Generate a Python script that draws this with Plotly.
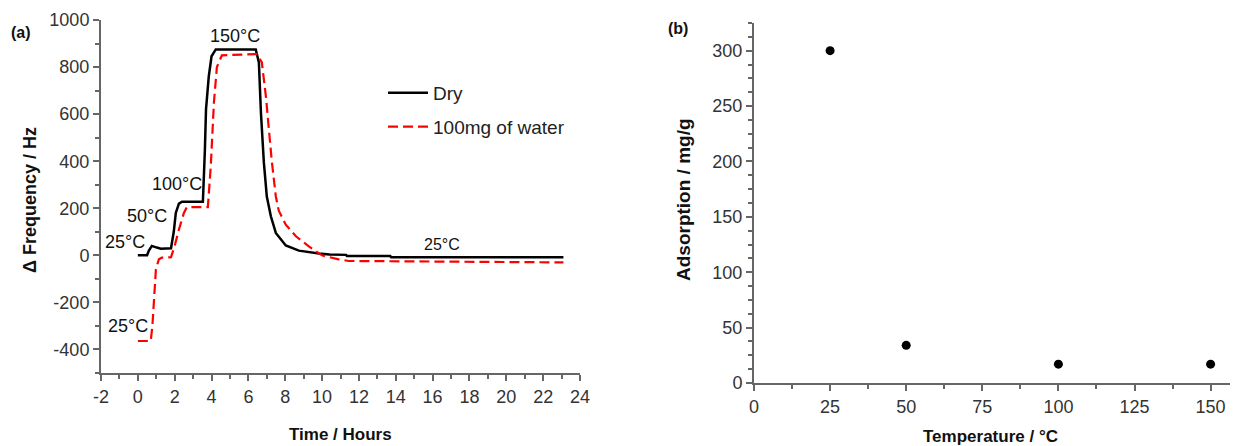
import plotly.graph_objects as go

# Panel (a): frequency shift vs time
dry_t = [0, 0.5, 0.6, 0.76, 1.03, 1.25, 1.8, 1.95, 2.06, 2.23, 2.4, 3.53, 3.64, 3.7, 3.85, 4.0, 4.23,
         6.4, 6.57, 6.68, 6.84, 7.0, 7.22, 7.49, 8.03, 8.74, 9.83, 10.4, 11.3, 11.35, 13.7, 13.75, 23.1]
dry_v = [0, 0, 20, 40, 33, 28, 30, 100, 180, 220, 228, 228, 450, 620, 760, 846, 875,
         875, 820, 608, 395, 250, 166, 95, 42, 20, 8, 4, 2, -3, -3, -8, -8]

wet_t = [0, 0.7, 0.79, 0.87, 0.98, 1.14, 1.3, 1.8, 2.0, 2.23, 2.5, 2.66, 3.8, 3.96, 4.13, 4.29, 4.56,
         6.46, 6.73, 6.95, 7.11, 7.27, 7.49, 7.65, 8.03, 8.58, 9.28, 9.99, 10.9, 11.45, 23.1]
wet_v = [-364, -364, -300, -187, -60, -17, -10, -8, 40, 110, 180, 205, 205, 380, 650, 800, 850,
         855, 820, 676, 540, 400, 250, 190, 130, 81, 38, 0, -17, -24, -30]

time_ticks = list(range(-2, 25, 2))
freq_ticks = list(range(-400, 1001, 200))

# Panel (b): adsorption vs temperature
temp_c = [25, 50, 100, 150]
adsorption = [300, 34, 17, 17]
temp_ticks = [0, 25, 50, 75, 100, 125, 150]
ads_ticks = [0, 50, 100, 150, 200, 250, 300]

# page has an 8px body margin; lay out in page pixels and convert
OFF = 8
W, H = 1238 - OFF, 446 - OFF
def px(x):
    return (x - OFF) / W
def py(y):
    return 1 - (y - OFF) / H

axis_col = "#666666"
FONT = "Liberation Sans, Arial, sans-serif"
tick_font = dict(family=FONT, size=18, color="#333333")

fig = go.Figure()
fig.add_trace(go.Scatter(x=dry_t, y=dry_v, mode="lines", name="Dry", legendgroup="a",
                         line=dict(color="black", width=2.5), xaxis="x", yaxis="y"))
fig.add_trace(go.Scatter(x=wet_t, y=wet_v, mode="lines", name="100mg of water", legendgroup="b",
                         line=dict(color="#ff0000", width=2.2, dash="10px,5px"), xaxis="x", yaxis="y"))
fig.add_trace(go.Scatter(x=temp_c, y=adsorption, mode="markers", showlegend=False,
                         marker=dict(color="black", size=9), xaxis="x2", yaxis="y2"))

common = dict(showgrid=False, zeroline=False, showline=True, linecolor=axis_col, linewidth=2,
              ticks="outside", tickcolor=axis_col, tickwidth=2, ticklen=6, tickfont=tick_font,
              automargin=False)

def minor(d):
    return dict(dtick=d, ticklen=4, tickcolor=axis_col, tickwidth=1.5, ticks="outside")

fig.update_layout(
    width=W, height=H, margin=dict(l=0, r=0, t=0, b=0),
    paper_bgcolor="white", plot_bgcolor="white",
    xaxis=dict(domain=[px(101), px(580)], range=[-2, 24], tickvals=time_ticks,
               ticktext=[str(v) for v in time_ticks],
               anchor="y", minor=minor(1), **common),
    yaxis=dict(domain=[py(373), py(20)], range=[-500, 1000], tickvals=freq_ticks,
               ticktext=[str(v) for v in freq_ticks],
               anchor="x", minor=minor(100), **common),
    xaxis2=dict(domain=[px(754), 1.0], range=[0, 159], tickvals=temp_ticks,
                ticktext=[str(v) for v in temp_ticks],
                anchor="y2", minor=minor(12.5), **common),
    yaxis2=dict(domain=[py(383), py(23)], range=[0, 325], tickvals=ads_ticks,
                ticktext=[str(v) for v in ads_ticks],
                anchor="x2", minor=minor(12.5), **common),
    legend=dict(x=px(383), y=py(74), xanchor="left", yanchor="top", bgcolor="rgba(0,0,0,0)",
                font=dict(family=FONT, size=19, color="#222222"), itemwidth=40, tracegroupgap=6),
    showlegend=True,
)

def ann(text, x, y, xref="paper", yref="paper", size=16, bold=False, angle=0, xanchor="center"):
    t = f"<b>{text}</b>" if bold else text
    fig.add_annotation(text=t, x=x, y=y, xref=xref, yref=yref, showarrow=False, textangle=angle,
                       xanchor=xanchor, yanchor="middle", font=dict(family=FONT, size=size, color="#111111"))

# Axis titles and panel labels
ann("Δ Frequency / Hz", px(30), py(200), bold=True, angle=-90, size=18)
ann("Time / Hours", px(340), py(434), bold=True, size=17)
ann("Adsorption / mg/g", px(683), py(200), bold=True, angle=-90, size=19)
ann("Temperature / °C", px(990), py(436), bold=True, size=17)
ann("(a)", px(21), py(33), bold=True, size=16)
ann("(b)", px(678), py(28), bold=True, size=16)

# Temperature labels on panel (a)
for txt, tx, vy, sz in [("150°C", 5.3, 930, 18), ("100°C", 2.1, 302, 18), ("50°C", 0.5, 166, 18),
                        ("25°C", -0.7, 55, 18), ("25°C", -0.55, -302, 18), ("25°C", 16.5, 47, 16)]:
    ann(txt, tx, vy, xref="x", yref="y", size=sz)

fig.write_html("out.html")
